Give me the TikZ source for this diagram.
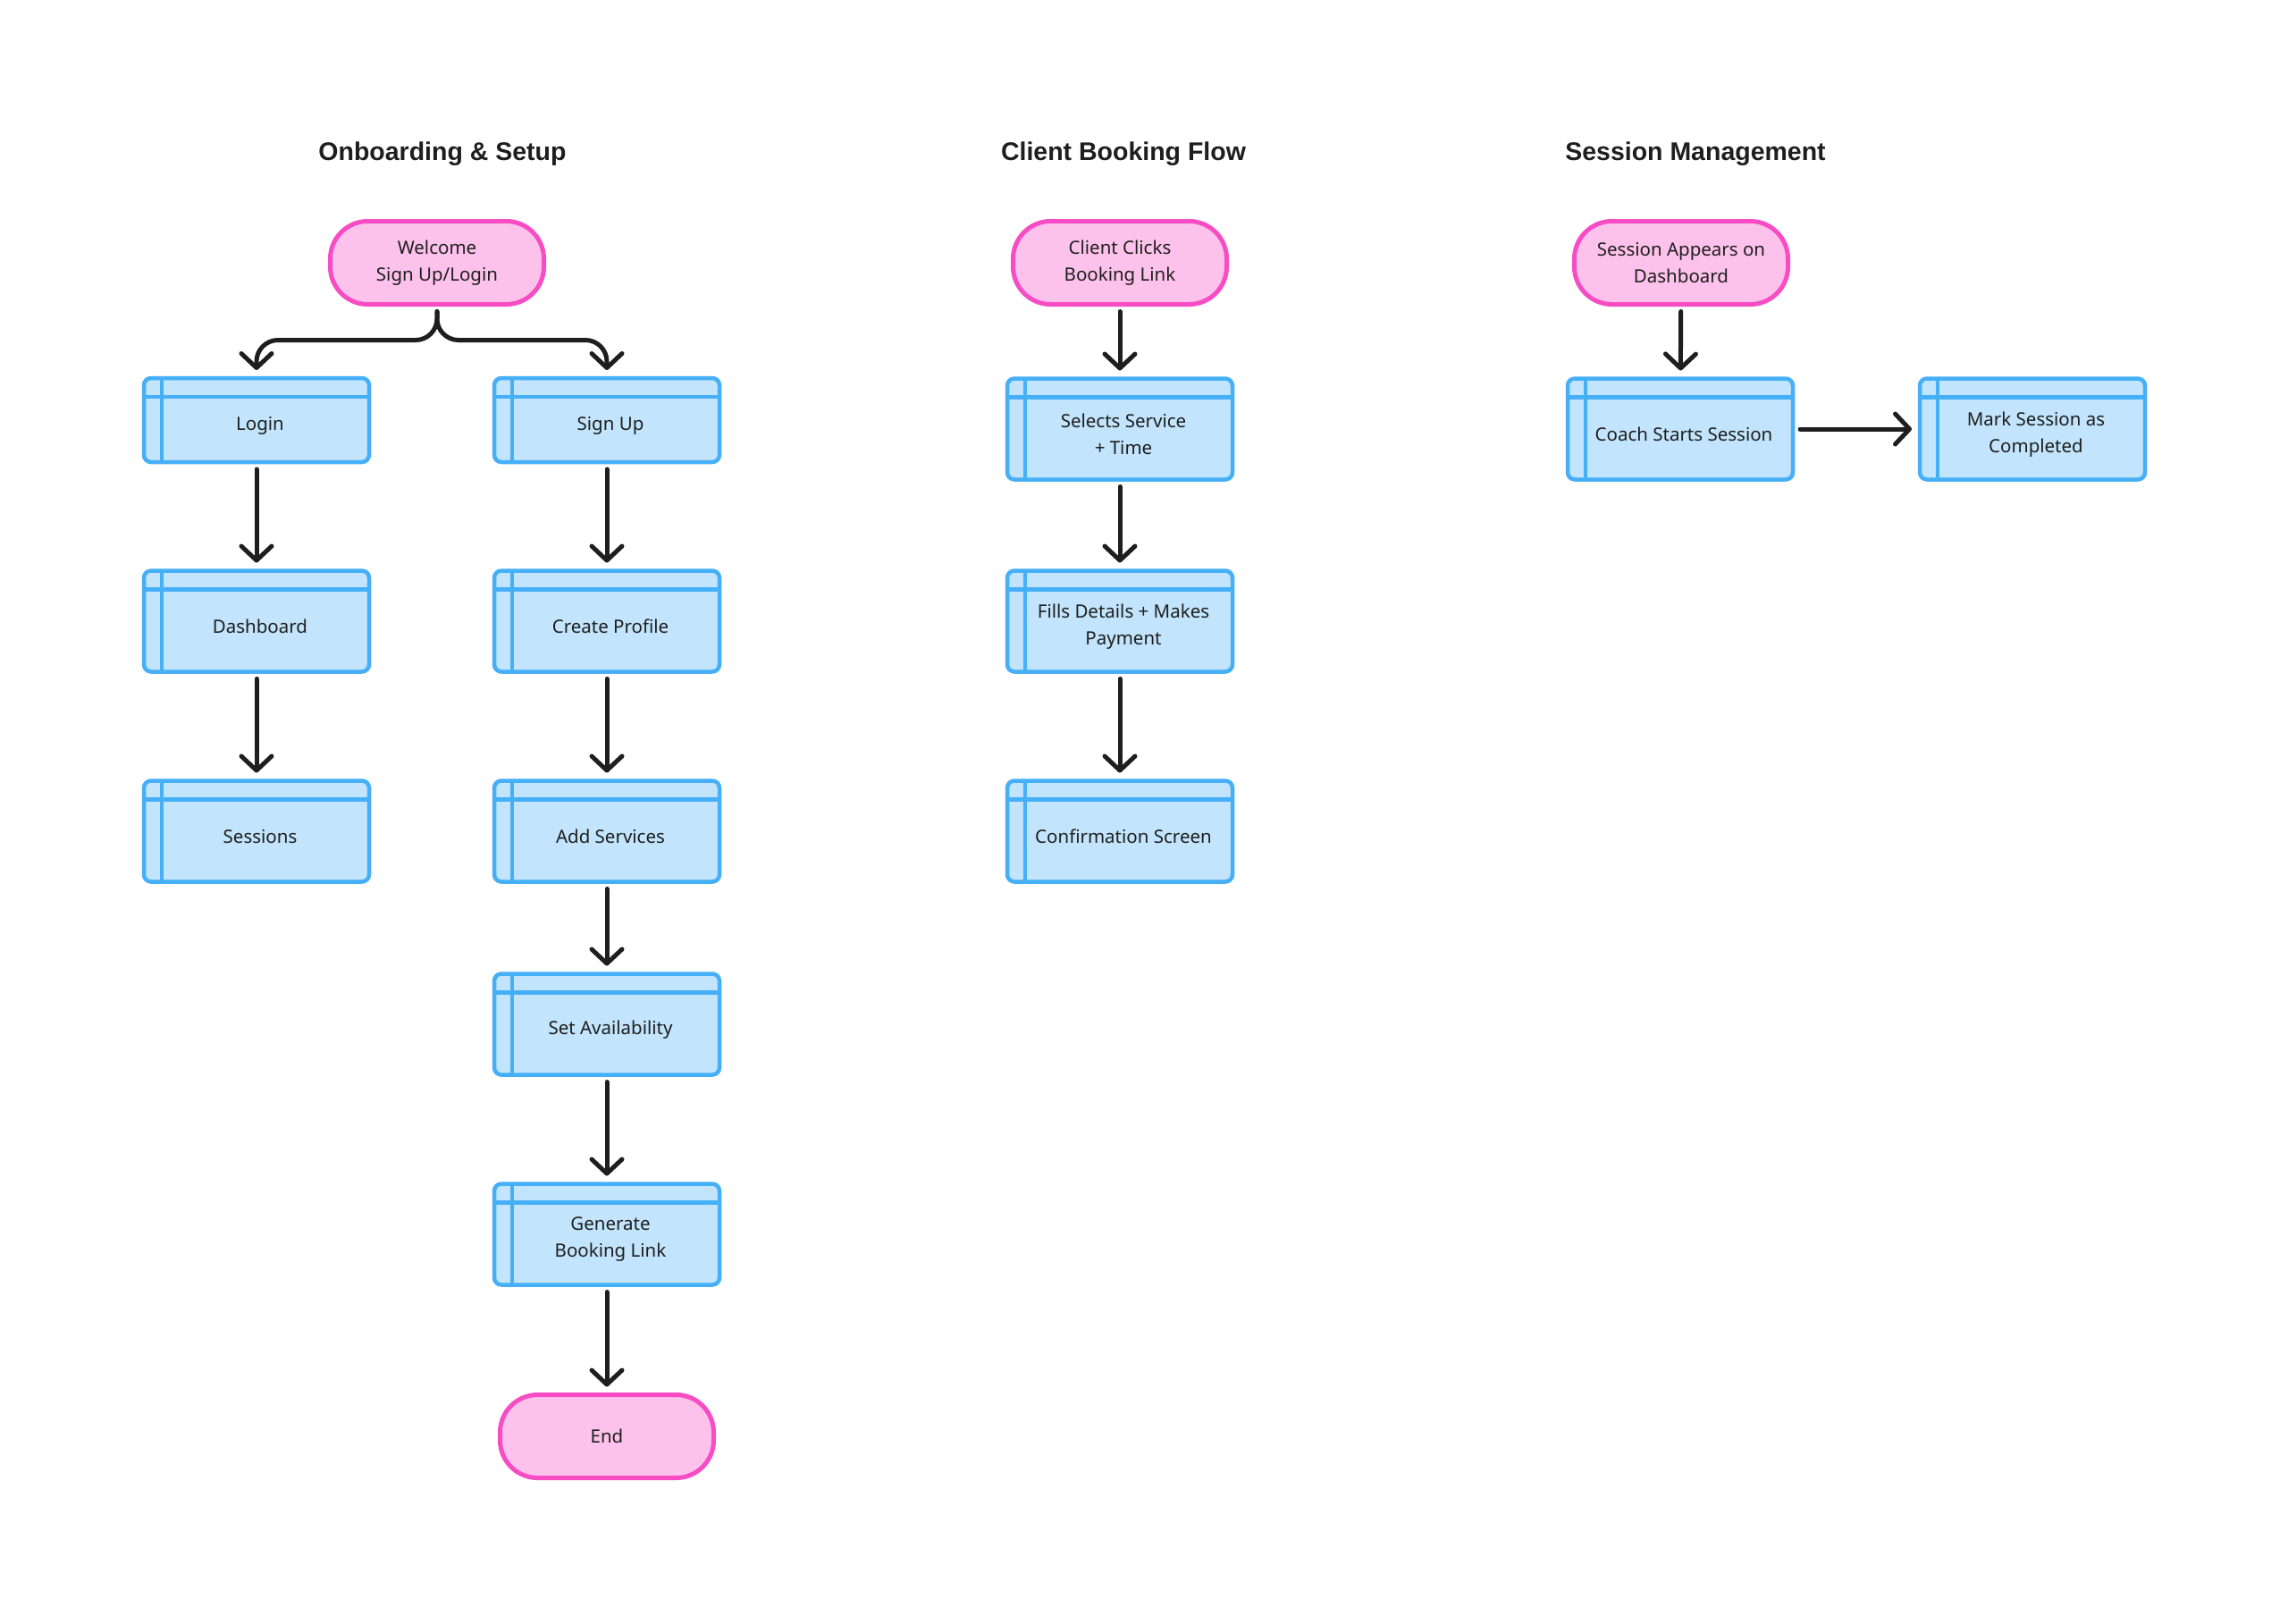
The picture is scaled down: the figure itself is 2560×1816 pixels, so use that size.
\documentclass[tikz,border=0pt]{standalone}
\usepackage{fontspec}
\setmainfont{Noto Sans}
\newfontfamily\titlefont{Liberation Sans}
\usetikzlibrary{arrows.meta,calc}
\definecolor{bstroke}{HTML}{45AFF7}
\definecolor{bfill}{HTML}{C2E4FC}
\definecolor{pstroke}{HTML}{F84CC4}
\definecolor{pfill}{HTML}{FDC2EB}
\definecolor{ink}{HTML}{1E1E1E}
\newcommand\procbox[5]{%
  \node[proc, minimum height=#4pt,
    label={[boxtext]center:#5}] (#1) at (#2,#3) {};
  \draw[bline] ([yshift=-21pt]#1.north west) -- ([yshift=-21pt]#1.north east);
  \draw[bline] ([xshift=20pt]#1.north west) -- ([xshift=20pt]#1.south west);
}
\begin{document}
\begin{tikzpicture}[x=1pt,y=-1pt,
  proc/.style={draw=bstroke, fill=bfill, line width=4.5pt, rounded corners=8pt,
    minimum width=252pt, outer sep=0pt, inner sep=0pt},
  boxtext/.style={align=center, xshift=4pt, yshift=-6pt, inner sep=0pt,
    font=\fontsize{20.5}{30}\selectfont, text=ink},
  bline/.style={draw=bstroke, line width=4.5pt},
  term/.style={draw=pstroke, fill=pfill, line width=5pt, rounded corners=42pt,
    minimum width=239pt, minimum height=93pt, outer sep=0pt, inner sep=0pt,
    align=center, font=\fontsize{20.5}{30}\selectfont, text=ink},
  flow/.style={draw=ink, line width=5pt, line cap=round,
    -{Straight Barb[round,length=16pt,width=34pt]}, shorten >=9pt, shorten <=8pt},
  title/.style={font=\titlefont\fontsize{28.5}{34}\selectfont\bfseries, text=ink}
]
\useasboundingbox[fill=white] (0,0) rectangle (2560,1816);

\node[title] (t1) at (495,172) {Onboarding \& Setup};
\node[title] (t2) at (1257,172) {Client Booking Flow};
\node[title] (t3) at (1897,172) {Session Management};

\node[term] (welcome) at (489,294) {Welcome\\Sign Up/Login};
\procbox{login}{287}{470}{94}{Login}
\procbox{signup}{679}{470}{94}{Sign Up}
\procbox{dash}{287}{695}{113}{Dashboard}
\procbox{sess}{287}{930}{113}{Sessions}
\procbox{prof}{679}{695}{113}{Create Profile}
\procbox{serv}{679}{930}{113}{Add Services}
\procbox{avail}{679}{1146}{113}{Set Availability}
\procbox{gen}{679}{1381}{113}{Generate\\Booking Link}
\node[term] (end) at (679,1607) {End};

\node[term] (click) at (1253,294) {Client Clicks\\Booking Link};
\procbox{select}{1253}{480}{113}{Selects Service\\+ Time}
\procbox{fill}{1253}{695}{113}{Fills Details + Makes\\Payment}
\procbox{confirm}{1253}{930}{113}{Confirmation Screen}

\node[term] (appear) at (1881,294) {Session Appears on\\Dashboard};
\procbox{coach}{1880}{480}{113}{Coach Starts Session}
\procbox{mark}{2274}{480}{113}{Mark Session as\\Completed}

\draw[flow, shorten >=0pt, shorten <=0pt, rounded corners=24pt]
  ([yshift=-8pt]welcome.south) -- ++(0,32) -| ([yshift=9pt]login.north);
\draw[flow, shorten >=0pt, shorten <=0pt, rounded corners=24pt]
  ([yshift=-8pt]welcome.south) -- ++(0,32) -| ([yshift=9pt]signup.north);

\draw[flow] (login) -- (dash);
\draw[flow] (dash) -- (sess);
\draw[flow] (signup) -- (prof);
\draw[flow] (prof) -- (serv);
\draw[flow] (serv) -- (avail);
\draw[flow] (avail) -- (gen);
\draw[flow] (gen) -- (end);

\draw[flow] (click) -- (select);
\draw[flow] (select) -- (fill);
\draw[flow] (fill) -- (confirm);

\draw[flow] (appear) -- (coach);
\draw[flow] (coach) -- (mark);
\end{tikzpicture}
\end{document}
